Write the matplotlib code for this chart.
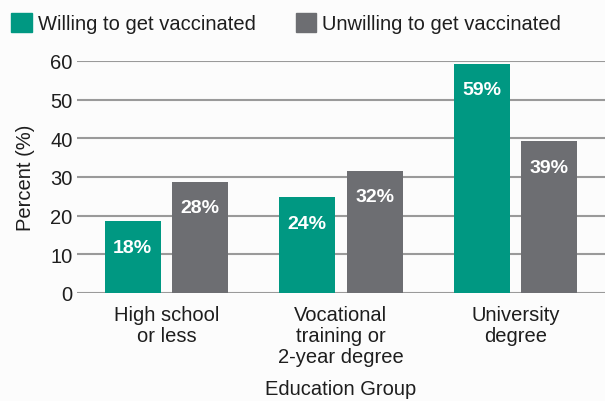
import numpy as np
import matplotlib
matplotlib.use("Agg")
import matplotlib.pyplot as plt
from matplotlib.patches import Patch

plt.rcParams['font.family'] = ['Liberation Sans', 'DejaVu Sans']

# data
groups = ["High school\nor less", "Vocational\ntraining or\n2-year degree", "University\ndegree"]
willing = [18.5, 24.7, 59.3]
unwilling = [28.6, 31.6, 39.2]
willing_lbl = ["18%", "24%", "59%"]
unwilling_lbl = ["28%", "32%", "39%"]
yticks = [0, 10, 20, 30, 40, 50, 60]

green = "#009882"
gray = "#6d6e72"
bg = "#fcfcfc"
txt = "#1e1e1e"

fig = plt.figure(figsize=(6.05, 4.02), dpi=100, facecolor=bg)
ax = fig.add_axes([0.127, 0.269, 0.873, 0.577], facecolor=bg)

x = np.arange(len(groups))
w = 0.32
off = 0.193
b1 = ax.bar(x - off, willing, w, color=green, zorder=3)
b2 = ax.bar(x + off, unwilling, w, color=gray, zorder=3)

for bars, labels in ((b1, willing_lbl), (b2, unwilling_lbl)):
    for b, t in zip(bars, labels):
        ax.annotate(t, (b.get_x() + b.get_width() / 2, b.get_height()),
                    xytext=(0, -18.5), textcoords="offset points",
                    ha="center", va="center", color="white",
                    fontsize=14, fontweight="bold", zorder=4)

ax.set_xlim(-0.513, 2.513)
ax.set_ylim(0, 60)
ax.set_yticks(yticks)
ax.set_xticks(x)
ax.set_xticklabels(groups, fontsize=14.5, color=txt, linespacing=1.13)
ax.tick_params(axis="y", labelsize=14.5, length=0, pad=3, colors=txt)
ax.tick_params(axis="x", length=0, pad=9)
ax.yaxis.grid(True, color="#9a9a9a", linewidth=1.5, zorder=0)
for s in ax.spines.values():
    s.set_visible(False)

ax.set_ylabel("Percent (%)", fontsize=14.5, color=txt, labelpad=11)
ax.set_xlabel("Education Group", fontsize=14.5, color=txt, labelpad=9)

handles = [Patch(color=green, label="Willing to get vaccinated"),
           Patch(color=gray, label="Unwilling to get vaccinated")]
fig.legend(handles=handles, loc="upper left", bbox_to_anchor=(-0.011, 1.01),
           ncol=2, frameon=False, fontsize=14.5, handlelength=1.0,
           handleheight=1.05, handletextpad=0.3, columnspacing=2.0,
           labelcolor=txt)

fig.savefig("out.png", dpi=100, facecolor=bg)
